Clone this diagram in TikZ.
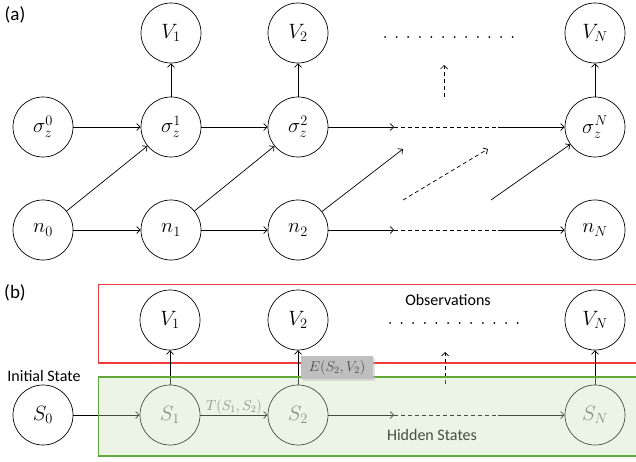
\documentclass[tikz,border=0pt]{standalone}
\usepackage{fontspec}
\setsansfont{Carlito}
\usetikzlibrary{arrows.meta}
\definecolor{redbox}{HTML}{F23C3C}
\definecolor{greenedge}{HTML}{62A83A}
\definecolor{greenfill}{HTML}{C5E0B4}
\definecolor{graybox}{HTML}{BFBFBF}
\begin{document}
\begin{tikzpicture}[x=1pt,y=-1pt,line width=0.7pt,
  >={Straight Barb[length=3.5pt,width=7pt]},
  st/.style={circle,draw,minimum size=60pt,inner sep=0pt,font=\fontsize{22}{24}\selectfont},
  hid/.style={st,text=black!60},
  lab/.style={font=\sffamily\fontsize{16}{18}\selectfont},
  small/.style={font=\fontsize{14.5}{16}\selectfont,inner sep=1pt},
  dotline/.style={line width=2pt,dash pattern=on 0pt off 11.6pt,line cap=round},
  dsh/.style={dashed,dash pattern=on 4pt off 3pt}]
\useasboundingbox (0,0) rectangle (636,462);
% ---------------- (a) ----------------
\node[lab,font=\sffamily\fontsize{19}{21}\selectfont] (la) at (15,15) {(a)};
\node[st] (v1) at (171,33) {$V_1$};
\node[st] (v2) at (298,33) {$V_2$};
\node[st] (vN) at (595,33) {$V_N$};
\node[st] (s0) at (43,127) {$\sigma_z^0$};
\node[st] (s1) at (171,127) {$\sigma_z^1$};
\node[st] (s2) at (298,127) {$\sigma_z^2$};
\node[st] (sN) at (595,127) {$\sigma_z^N$};
\node[st] (n0) at (43,230) {$n_0$};
\node[st] (n1) at (171,230) {$n_1$};
\node[st] (n2) at (298,230) {$n_2$};
\node[st] (nN) at (595,230) {$n_N$};
\coordinate (dA) at (385,37);
\coordinate (dB) at (513,37);
\draw[dotline] (dA) -- (dB);
\coordinate (uA) at (444,97);
\coordinate (uB) at (444,65);
\draw[->,dsh] (uA) -- (uB);
\draw[->] (s1) -- (v1);
\draw[->] (s2) -- (v2);
\draw[->] (sN) -- (vN);
\draw[->] (s0) -- (s1);
\draw[->] (s1) -- (s2);
\coordinate (sa) at (394,127);
\coordinate (sb) at (498,127);
\draw[->] (s2) -- (sa);
\draw[dsh] (sa) -- (sb);
\draw[->] (sb) -- (sN);
\draw[->] (n0) -- (n1);
\draw[->] (n1) -- (n2);
\coordinate (na) at (394,230);
\coordinate (nb) at (498,230);
\draw[->] (n2) -- (na);
\draw[dsh] (na) -- (nb);
\draw[->] (nb) -- (nN);
\draw[->] (n0) -- (s1);
\draw[->] (n1) -- (s2);
\coordinate (ga) at (403,149);
\draw[->] (n2) -- (ga);
\coordinate (gb) at (403,200);
\coordinate (gc) at (488,149);
\draw[->,dsh] (gb) -- (gc);
\coordinate (gd) at (491,200);
\draw[->] (gd) -- (sN);
% ---------------- (b) ----------------
\node[lab,font=\sffamily\fontsize{19}{21}\selectfont] (lb) at (15,293) {(b)};
\draw[redbox,line width=1.1pt] (98.5,284.5) rectangle (640,363);
\node[st] (bv1) at (170,320) {$V_1$};
\node[st] (bv2) at (298,320) {$V_2$};
\node[st] (bvN) at (595,320) {$V_N$};
\node[st] (b0) at (43,415) {$S_0$};
\node[hid] (b1) at (170,415) {$S_1$};
\node[hid] (b2) at (298,415) {$S_2$};
\node[hid] (bN) at (595,415) {$S_N$};
\node[lab] (init) at (44,376) {Initial State};
\node[lab] (obs) at (448,300) {Observations};
\node[lab] (hs) at (432,435) {Hidden States};
\coordinate (bdA) at (390,323);
\coordinate (bdB) at (518,323);
\draw[dotline] (bdA) -- (bdB);
\coordinate (buA) at (445,384);
\coordinate (buB) at (445,352);
\draw[->,dsh] (buA) -- (buB);
\draw[->] (b1) -- (bv1);
\draw[->] (b2) -- (bv2);
\draw[->] (bN) -- (bvN);
\draw[->] (b0) -- (b1);
\draw[->] (b1) -- node[small,above,text=black!60] (tl) {$T(S_1,S_2)$} (b2);
\coordinate (ba) at (394,415);
\coordinate (bb) at (498,415);
\draw[->] (b2) -- (ba);
\draw[dsh] (ba) -- (bb);
\draw[->] (bb) -- (bN);
\fill[greenfill,fill opacity=0.35] (99,377) rectangle (640,456);
\draw[greenedge,line width=1.1pt] (98.5,377) rectangle (640,456);
\fill[black!25,opacity=0.5] (303,358) rectangle (375,381);
\node[small,fill=graybox,text=black!70,minimum width=72pt,minimum height=23pt,inner sep=0pt] (el) at (337,367.5) {$E(S_2,V_2)$};
\end{tikzpicture}
\end{document}
